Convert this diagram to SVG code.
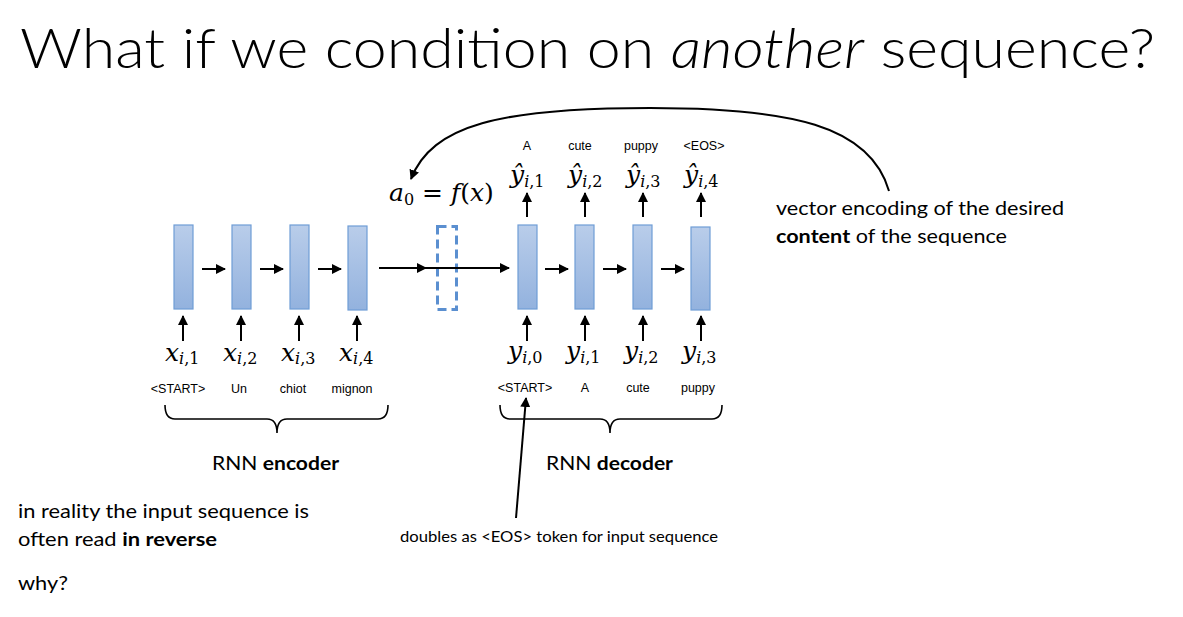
<svg xmlns="http://www.w3.org/2000/svg" width="1183" height="617" viewBox="0 0 1183 617">
<defs>
<linearGradient id="cell" x1="0" y1="0" x2="0" y2="1">
<stop offset="0" stop-color="#b9cdea"/>
<stop offset="1" stop-color="#93b2de"/>
</linearGradient>
<marker id="ah" viewBox="0 0 10 10" refX="9" refY="5" markerWidth="5" markerHeight="5" orient="auto" markerUnits="strokeWidth">
<path d="M0,0 L10,5 L0,10 z" fill="#000"/>
</marker>
</defs>
<style>
.cell{fill:url(#cell);stroke:#6f9dd6;stroke-width:1.2}
.dash{fill:none;stroke:#5b8fd0;stroke-width:3;stroke-dasharray:9 5}
.arr{stroke:#000;stroke-width:2;fill:none;marker-end:url(#ah)}
.brace{stroke:#000;stroke-width:1.6;fill:none}
.sans{font-family:Lato,"Liberation Sans",sans-serif;fill:#000}
.small{font-family:"Liberation Sans",sans-serif;font-size:12.5px;fill:#000;text-anchor:middle}
.math{font-family:"DejaVu Serif","Liberation Serif",serif;font-style:italic;font-weight:300;fill:#000;font-size:25px}
.math .s{font-size:16px}
.up{font-style:normal}
</style>
<rect width="1183" height="617" fill="#fff"/>
<text id="title" class="sans" x="20" y="68" font-size="56" font-weight="300" textLength="1135" lengthAdjust="spacingAndGlyphs">What if we condition on <tspan font-style="italic">another</tspan> sequence?</text>

<g id="encoder">
<rect class="cell" x="174" y="225" width="19" height="84"/>
<rect class="cell" x="232" y="225" width="19" height="84"/>
<rect class="cell" x="290" y="225" width="19" height="84"/>
<rect class="cell" x="348" y="226" width="19" height="84"/>
</g>
<g id="a0">
<rect class="dash" x="437.5" y="226.5" width="19" height="83"/>
</g>
<g id="decoder">
<rect class="cell" x="518" y="225" width="19" height="84"/>
<rect class="cell" x="575" y="225" width="19" height="84"/>
<rect class="cell" x="633" y="225" width="19" height="84"/>
<rect class="cell" x="691" y="227" width="19" height="83"/>
</g>

<g id="connectors">
<line class="arr" x1="202" y1="269" x2="225" y2="269"/>
<line class="arr" x1="260" y1="269" x2="283" y2="269"/>
<line class="arr" x1="318" y1="269" x2="341" y2="269"/>
<line class="arr" x1="379" y1="268" x2="426" y2="268"/>
<line class="arr" x1="424" y1="268" x2="509" y2="268"/>
<line class="arr" x1="545" y1="269" x2="568" y2="269"/>
<line class="arr" x1="603" y1="269" x2="626" y2="269"/>
<line class="arr" x1="661" y1="269" x2="684" y2="269"/>
<line class="arr" x1="183" y1="341" x2="183" y2="316"/>
<line class="arr" x1="241" y1="341" x2="241" y2="316"/>
<line class="arr" x1="299" y1="341" x2="299" y2="316"/>
<line class="arr" x1="357" y1="341" x2="357" y2="316"/>
<line class="arr" x1="527" y1="341" x2="527" y2="316"/>
<line class="arr" x1="585" y1="341" x2="585" y2="316"/>
<line class="arr" x1="643" y1="341" x2="643" y2="316"/>
<line class="arr" x1="701" y1="341" x2="701" y2="316"/>
<line class="arr" x1="527" y1="217" x2="527" y2="193"/>
<line class="arr" x1="585" y1="217" x2="585" y2="193"/>
<line class="arr" x1="643" y1="217" x2="643" y2="193"/>
<line class="arr" x1="701" y1="217" x2="701" y2="193"/>
<path class="arr" d="M889 191 C870 125 790 108 650 108 C500 108 432 125 411 179"/>
<line class="arr" x1="516" y1="518" x2="526" y2="398"/>
<path class="brace" d="M165 405 Q165 419 175 419 H267 Q277 419 277 433 Q277 419 287 419 H378 Q388 419 388 405"/>
<path class="brace" d="M500 405 Q500 419 510 419 H600 Q610 419 610 433 Q610 419 620 419 H712 Q722 419 722 405"/>
</g>

<g id="labels-x">
<text class="math" x="165" y="361">x<tspan class="s" dy="3">i</tspan><tspan class="s up">,1</tspan></text>
<text class="math" x="223" y="361">x<tspan class="s" dy="3">i</tspan><tspan class="s up">,2</tspan></text>
<text class="math" x="281" y="361">x<tspan class="s" dy="3">i</tspan><tspan class="s up">,3</tspan></text>
<text class="math" x="339" y="361">x<tspan class="s" dy="3">i</tspan><tspan class="s up">,4</tspan></text>
<text class="math" x="508" y="359">y<tspan class="s" dy="4">i</tspan><tspan class="s up">,0</tspan></text>
<text class="math" x="566" y="359">y<tspan class="s" dy="4">i</tspan><tspan class="s up">,1</tspan></text>
<text class="math" x="624" y="359">y<tspan class="s" dy="4">i</tspan><tspan class="s up">,2</tspan></text>
<text class="math" x="682" y="359">y<tspan class="s" dy="4">i</tspan><tspan class="s up">,3</tspan></text>
<text class="math" x="510" y="183">ŷ<tspan class="s" dy="4">i</tspan><tspan class="s up">,1</tspan></text>
<text class="math" x="568" y="183">ŷ<tspan class="s" dy="4">i</tspan><tspan class="s up">,2</tspan></text>
<text class="math" x="626" y="183">ŷ<tspan class="s" dy="4">i</tspan><tspan class="s up">,3</tspan></text>
<text class="math" x="684" y="183">ŷ<tspan class="s" dy="4">i</tspan><tspan class="s up">,4</tspan></text>
<text class="math" x="389" y="201" font-size="26">a<tspan class="s up" font-size="17" dy="4">0</tspan><tspan class="up" dy="-4"> = </tspan>f<tspan class="up">(</tspan>x<tspan class="up">)</tspan></text>
</g>

<g id="words">
<text class="small" x="178" y="393">&lt;START&gt;</text>
<text class="small" x="239" y="393">Un</text>
<text class="small" x="293" y="393">chiot</text>
<text class="small" x="352" y="393">mignon</text>
<text class="small" x="525" y="392">&lt;START&gt;</text>
<text class="small" x="585" y="392">A</text>
<text class="small" x="638" y="392">cute</text>
<text class="small" x="698" y="392">puppy</text>
<text class="small" x="527" y="150">A</text>
<text class="small" x="580" y="150">cute</text>
<text class="small" x="641" y="150">puppy</text>
<text class="small" x="704" y="150">&lt;EOS&gt;</text>
</g>

<g id="captions" class="sans" font-size="19">
<text x="212" y="470" textLength="127" lengthAdjust="spacingAndGlyphs">RNN <tspan font-weight="bold">encoder</tspan></text>
<text x="546" y="470" textLength="127" lengthAdjust="spacingAndGlyphs">RNN <tspan font-weight="bold">decoder</tspan></text>
<text x="400" y="542" font-size="15" textLength="318" lengthAdjust="spacingAndGlyphs">doubles as &lt;EOS&gt; token for input sequence</text>
<text x="776" y="215" textLength="288" lengthAdjust="spacingAndGlyphs">vector encoding of the desired</text>
<text x="776" y="243" textLength="231" lengthAdjust="spacingAndGlyphs"><tspan font-weight="bold">content</tspan> of the sequence</text>
<text x="18" y="518" textLength="291" lengthAdjust="spacingAndGlyphs">in reality the input sequence is</text>
<text x="18" y="546" textLength="199" lengthAdjust="spacingAndGlyphs">often read <tspan font-weight="bold">in reverse</tspan></text>
<text x="18" y="590" textLength="50" lengthAdjust="spacingAndGlyphs">why?</text>
</g>
</svg>
